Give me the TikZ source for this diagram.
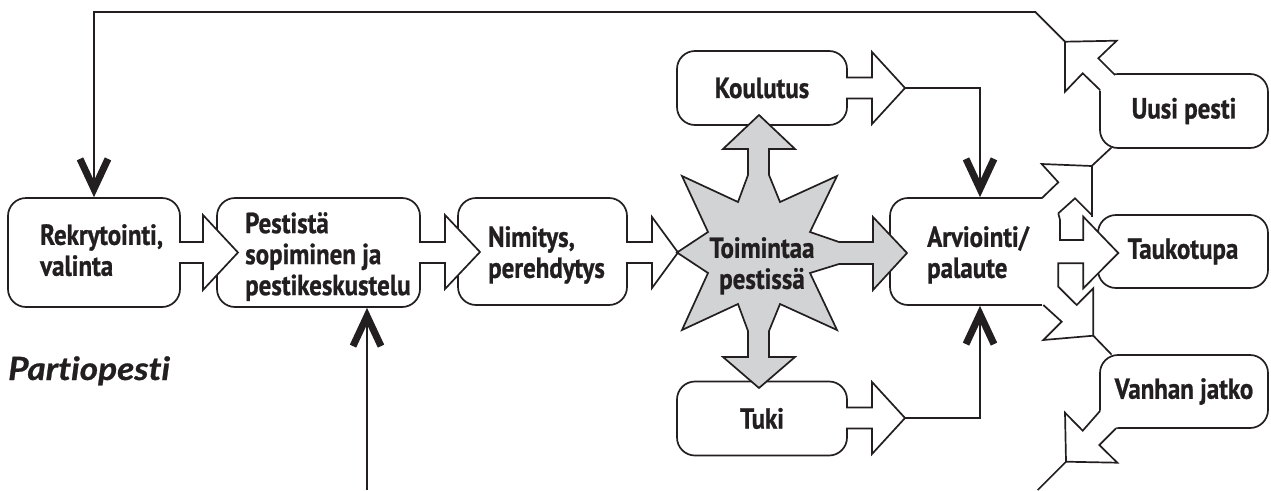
\documentclass[tikz,border=0pt]{standalone}
\usepackage{fontspec}
\newfontfamily\lblfont{PT Sans}[FakeStretch=0.86,FakeBold=0.8]
\newfontfamily\ttlfont{Lato}[Ligatures=NoCommon,FakeBold=0.8,FakeStretch=1.1]
\usetikzlibrary{arrows.meta}
\definecolor{ink}{RGB}{35,31,32}
\definecolor{stargray}{RGB}{209,211,212}
\begin{document}
\begin{tikzpicture}[x=1pt,y=-1pt,
  box/.style={draw=ink, line width=1.7pt, rounded corners=18pt, fill=white, inner sep=0pt,
              text=ink, font=\lblfont\bfseries\fontsize{29}{31}\selectfont},
  lbl/.style={text=ink, font=\lblfont\bfseries\fontsize{29}{31}\selectfont, inner sep=0pt, align=left},
  ln/.style={draw=ink, line width=1.7pt, line join=miter},
  blk/.style={draw=ink, line width=1.7pt, fill=white, line join=miter},
  varrow/.style={-{Straight Barb[length=30pt,width=28pt,line width=7pt]}}
]
\useasboundingbox (0,0) rectangle (1271,490);

% main boxes
\node[box, minimum width=172pt, minimum height=109pt] (rek) at (94,252.5) {};
\node[box, minimum width=203pt, minimum height=109pt] (pes) at (318.5,252.5) {};
\node[box, minimum width=169pt, minimum height=107pt] (nim) at (542.5,251.5) {};
\node[box, minimum width=180pt, minimum height=107pt] (arv) at (980,251.5) {};
\node[box, minimum width=170pt, minimum height=74pt] (kou) at (762,88) {Koulutus};
\node[box, minimum width=170pt, minimum height=74pt] (tuki) at (762,418.5) {Tuki};
\node[box, minimum width=168pt, minimum height=74pt] (uusi) at (1184,111) {Uusi pesti};
\node[box, minimum width=170pt, minimum height=73pt] (tauko) at (1183,251.5) {Taukotupa};
\node[box, minimum width=168pt, minimum height=73pt] (vanhan) at (1184,391.5) {Vanhan jatko};

\node[lbl, anchor=north west] (rekT) at (40,224) {Rekrytointi,\\valinta};
\node[lbl, anchor=north west] (pesT) at (245,212) {Pestistä\\sopiminen ja\\pestikeskustelu};
\node[lbl, anchor=north west] (nimT) at (488,226) {Nimitys,\\perehdytys};
\node[lbl, anchor=north west] (arvT) at (927,226) {Arviointi/\\palaute};

% block arrows between boxes
\draw[blk] (179,242) -- (203,242) -- (203,215) -- (238,252.5) -- (203,290) -- (203,263) -- (179,263);
\draw[blk] (419,242) -- (445,242) -- (445,215) -- (480,252) -- (445,289) -- (445,263) -- (419,263);
\draw[blk] (626,242) -- (652,242) -- (652,217) -- (678,252.5) -- (652,288) -- (652,263) -- (626,263);
\draw[blk] (846,77.5) -- (872,77.5) -- (872,52) -- (905,88) -- (872,124) -- (872,98.5) -- (846,98.5);
\draw[blk] (846,407.5) -- (872,407.5) -- (872,382) -- (905,418) -- (872,454) -- (872,428.5) -- (846,428.5);
\coordinate (koutip) at (905,88);
\coordinate (tukitip) at (905,418);

% central star with arrows
\draw[ln, fill=stargray] (677,252.5) -- (708,232) -- (682,176) -- (738,202) -- (748,175)
  -- (748,149) -- (723,149) -- (759,115) -- (795,149) -- (769,149) -- (769,175)
  -- (780,202) -- (837,176) -- (810,232) -- (839,242) -- (873,242) -- (873,217)
  -- (907,253) -- (873,290) -- (873,264) -- (839,264) -- (810,273) -- (837,330)
  -- (780,304) -- (769,331) -- (769,357) -- (795,357) -- (759,388) -- (723,357)
  -- (748,357) -- (748,331) -- (738,304) -- (682,330) -- (708,273) -- cycle;
\node[lbl, align=center, anchor=north] (toim) at (762,237) {Toimintaa\\pestissä};

% right side of Arviointi
\fill[white] (1042,195) rectangle (1073,310);
\fill[white] (1083.3,216.7) -- (1118.3,253) -- (1083.3,288.3) -- cycle;
\draw[ln] (1041.7,198.3) -- (1058.3,182.3) -- (1041.7,164) -- (1091.7,166) -- (1111.5,147.5);
\draw[ln] (1091.7,166) -- (1091.7,216.7);
\draw[ln] (1058.3,213.3) -- (1075,198.3) -- (1091.7,215);
\draw[ln] (1058.3,213.3) -- (1060,220) -- (1060,240) -- (1083.3,240) -- (1083.3,216.7)
  -- (1118.3,253) -- (1083.3,288.3) -- (1083.3,263.3) -- (1058.3,263.3) -- (1058.3,286.7)
  -- (1076.7,305) -- (1093.3,288.3) -- (1093.3,335.7) -- (1111.5,354.5);
\draw[ln] (1043.3,305) -- (1061.7,321.7) -- (1043.3,340) -- (1093.3,335.7);

% arrow out of Uusi pesti
\fill[white] (1100,90) -- (1082.7,73.3) -- (1065,91.7) -- (1065,41.7) -- (1116.7,40.7)
  -- (1098.3,58.3) -- (1115,75) -- (1118,75.6) -- (1118,92) -- (1101.6,92) -- cycle;
\draw[ln] (1100,90) -- (1082.7,73.3) -- (1065,91.7) -- (1065,41.7) -- (1116.7,40.7)
  -- (1098.3,58.3) -- (1115,75);
\coordinate (uusiapex) at (1065,41.7);

% arrow out of Vanhan jatko
\fill[white] (1100,411) -- (1082.7,430.7) -- (1065,412.7) -- (1066,461.7) -- (1117.3,462.7)
  -- (1099.3,445) -- (1116,427.5) -- (1118,427.4) -- (1118,410) -- (1101.6,410) -- cycle;
\draw[ln] (1100,411) -- (1082.7,430.7) -- (1065,412.7) -- (1066,461.7) -- (1117.3,462.7)
  -- (1099.3,445) -- (1116,428.3);
\coordinate (vanhanapex) at (1066,461.7);
\coordinate (vanhanfoot) at (1037.7,490);
\coordinate (pesfoot) at (367,490);

% connectors
\draw[ln, varrow] (koutip) -| (arv.north);
\draw[ln, varrow] (tukitip) -| (arv.south);
\draw[ln, varrow] (uusiapex) -- (1035.3,12) -| (rek.north);
\draw[ln, varrow] (pesfoot) -- (pesfoot |- pes.south);
\draw[ln] (vanhanapex) -- (vanhanfoot);

\node[anchor=base west, inner sep=0pt, text=ink, font=\ttlfont\bfseries\itshape\fontsize{32}{34}\selectfont] (title) at (8,380) {Partiopesti};
\end{tikzpicture}
\end{document}
